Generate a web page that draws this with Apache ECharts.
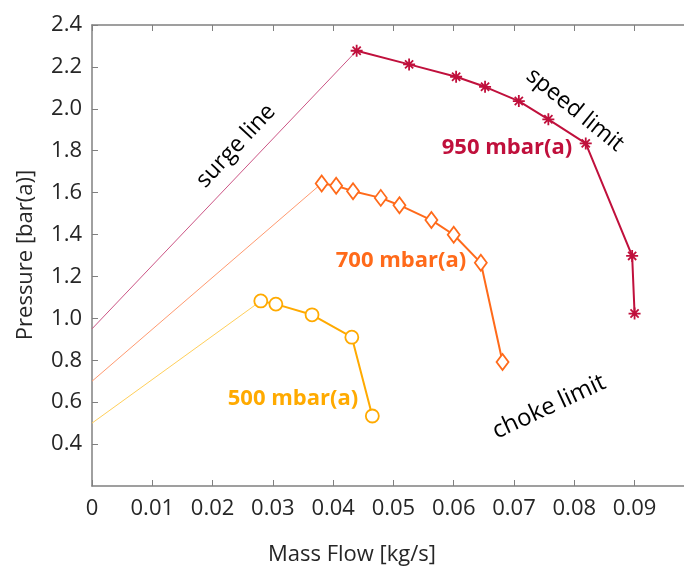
<!DOCTYPE html>
<html>
<head>
<meta charset="utf-8">
<script src="https://cdn.jsdelivr.net/npm/echarts@6/dist/echarts.min.js"></script>
<style>
html,body{margin:0;padding:0;background:#fff;}
#chart{width:684px;height:571px;}
</style>
</head>
<body>
<div id="chart"></div>
<script>
// ---- data ----
var flow950 = [0.0439, 0.0526, 0.0604, 0.0652, 0.0708, 0.0757, 0.0819, 0.0896, 0.0900];
var p950    = [2.277, 2.212, 2.153, 2.105, 2.037, 1.950, 1.835, 1.298, 1.023];
var flow700 = [0.0381, 0.0405, 0.0433, 0.0479, 0.0510, 0.0563, 0.0600, 0.0645, 0.0681];
var p700    = [1.644, 1.633, 1.607, 1.575, 1.540, 1.469, 1.399, 1.265, 0.792];
var flow500 = [0.0280, 0.0305, 0.0365, 0.0431, 0.0465];
var p500    = [1.083, 1.068, 1.017, 0.910, 0.534];
var surgeZeroFlowPressure = [0.95, 0.70, 0.50]; // 950, 700, 500 mbar(a)
var seriesNames = ['950 mbar(a)', '700 mbar(a)', '500 mbar(a)'];
var xTicks = [0, 0.01, 0.02, 0.03, 0.04, 0.05, 0.06, 0.07, 0.08, 0.09];
var yTicks = [0.4, 0.6, 0.8, 1.0, 1.2, 1.4, 1.6, 1.8, 2.0, 2.2, 2.4];
var xTitle = 'Mass Flow [kg/s]';
var yTitle = 'Pressure [bar(a)]';
var notes = ['surge line', 'speed limit', 'choke limit'];

// ---- styling ----
var C950 = '#C0103C', C700 = '#FF6A1A', C500 = '#FFAA00';
var S950 = '#CC5585', S700 = '#FF9A70', S500 = '#FFCF5A';
var FONT = '"Open Sans", sans-serif';
var AXC = '#808080';

function pairs(xs, ys){ return xs.map(function(x,i){ return [x, ys[i]]; }); }
function surge(p0, xs, ys){ return [[0, p0], [xs[0], ys[0]]]; }

var asterisk = 'path://M0,5L10,5M5,0L5,10M1.6,1.6L8.4,8.4M8.4,1.6L1.6,8.4';

var chart = echarts.init(document.getElementById('chart'), null, {renderer:'canvas'});

var axisCommon = {
  type: 'value', min: 0, max: 0.0982,
  axisLine: {show: true, lineStyle: {color: AXC, width: 1.5}},
  axisTick: {show: true, inside: true, length: 6, lineStyle: {color: AXC, width: 1}, customValues: xTicks},
  splitLine: {show: false}
};

var option = {
  animation: false,
  backgroundColor: '#fff',
  grid: {left: 92, top: 25, right: 0, bottom: 85},
  xAxis: [
    Object.assign({}, axisCommon, {
      position: 'bottom',
      axisLabel: {show: true, customValues: xTicks, margin: 12, color: '#262626', fontFamily: FONT, fontSize: 22,
        formatter: function(v){ return v === 0 ? '0' : v.toFixed(2); }}
    }),
    Object.assign({}, axisCommon, {
      position: 'top',
      axisLabel: {show: false}
    })
  ],
  yAxis: {
    type: 'value', min: 0.2, max: 2.4, interval: 0.2,
    axisLine: {show: true, lineStyle: {color: AXC, width: 1.5}},
    axisTick: {show: true, inside: true, length: 6, lineStyle: {color: AXC, width: 1}, customValues: yTicks},
    axisLabel: {customValues: yTicks, margin: 10, color: '#262626', fontFamily: FONT, fontSize: 22,
      formatter: function(v){ return v.toFixed(1); }},
    splitLine: {show: false}
  },
  series: [
    {type:'line', name:'surge950', data: surge(surgeZeroFlowPressure[0], flow950, p950), symbol:'none',
     lineStyle:{color:S950, width:1}, z:1},
    {type:'line', name:'surge700', data: surge(surgeZeroFlowPressure[1], flow700, p700), symbol:'none',
     lineStyle:{color:S700, width:1}, z:1},
    {type:'line', name:'surge500', data: surge(surgeZeroFlowPressure[2], flow500, p500), symbol:'none',
     lineStyle:{color:S500, width:1}, z:1},
    {type:'line', name: seriesNames[0], data: pairs(flow950, p950), showAllSymbol:true,
     symbol: asterisk, symbolSize: 12,
     lineStyle:{color:C950, width:2},
     itemStyle:{color:C950, borderColor:C950, borderWidth:1.8}, z:3},
    {type:'line', name: seriesNames[1], data: pairs(flow700, p700), showAllSymbol:true,
     symbol:'diamond', symbolSize:[12,16],
     lineStyle:{color:C700, width:2},
     itemStyle:{color:'#fff', borderColor:C700, borderWidth:1.8}, z:3},
    {type:'line', name: seriesNames[2], data: pairs(flow500, p500), showAllSymbol:true,
     symbol:'circle', symbolSize:13,
     lineStyle:{color:C500, width:2},
     itemStyle:{color:'#fff', borderColor:C500, borderWidth:1.8}, z:3}
  ],
  graphic: [
    {type:'text', x:352, y:555, style:{text:xTitle, font:'22px '+FONT, fill:'#262626', align:'center', verticalAlign:'middle'}},
    {type:'text', x:26, y:255, rotation:Math.PI/2, style:{text:yTitle, font:'22px '+FONT, fill:'#262626', align:'center', verticalAlign:'middle'}},
    {type:'text', x:236, y:146, rotation:47*Math.PI/180, style:{text:notes[0], font:'23px '+FONT, fill:'#000', align:'center', verticalAlign:'middle'}},
    {type:'text', x:575, y:110, rotation:-39*Math.PI/180, style:{text:notes[1], font:'23px '+FONT, fill:'#000', align:'center', verticalAlign:'middle'}},
    {type:'text', x:549, y:407, rotation:25*Math.PI/180, style:{text:notes[2], font:'24px '+FONT, fill:'#000', align:'center', verticalAlign:'middle'}},
    {type:'text', x:507, y:148, style:{text:seriesNames[0], font:'bold 22px '+FONT, fill:C950, align:'center', verticalAlign:'middle'}},
    {type:'text', x:401, y:261, style:{text:seriesNames[1], font:'bold 22px '+FONT, fill:C700, align:'center', verticalAlign:'middle'}},
    {type:'text', x:293, y:399, style:{text:seriesNames[2], font:'bold 22px '+FONT, fill:C500, align:'center', verticalAlign:'middle'}}
  ]
};
chart.setOption(option);
</script>
</body>
</html>
